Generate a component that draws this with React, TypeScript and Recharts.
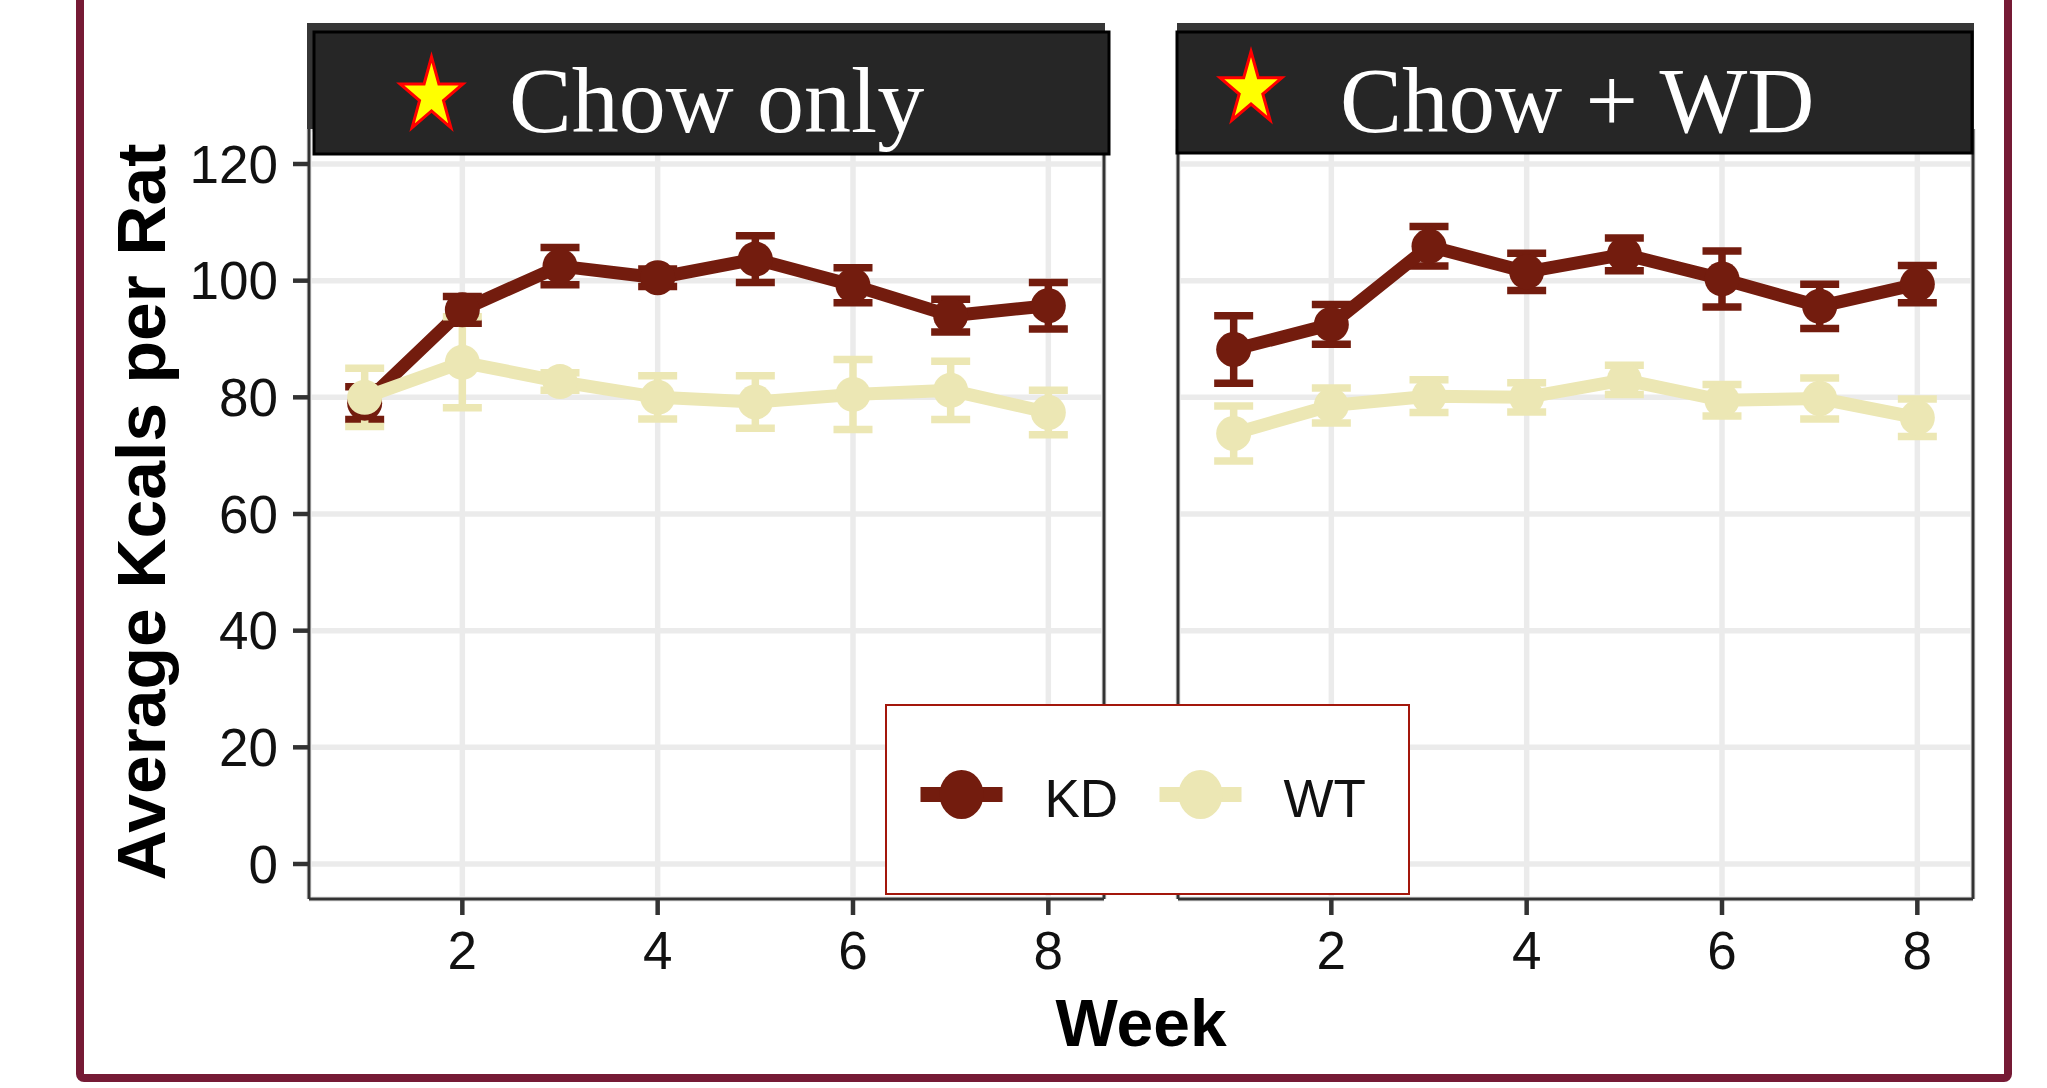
import React from 'react';
import { LineChart, Line, XAxis, YAxis, CartesianGrid, ErrorBar, ReferenceLine, Legend } from 'recharts';

// weeks on the x axis
const weeks = [1, 2, 3, 4, 5, 6, 7, 8];
const panelTitles = ['Chow only', 'Chow + WD'];

// Chow only panel: means and error (kcal)
const chowKD = [79, 95, 102.5, 100.5, 103.7, 99.2, 94, 95.7];
const chowKDErr = [2.8, 2.3, 3.2, 1.5, 4, 3, 2.8, 4];
const chowWT = [80, 86, 82.7, 80, 79.2, 80.5, 81.2, 77.4];
const chowWTErr = [5, 7.8, 1.5, 3.7, 4.5, 6, 5, 3.8];

// Chow + WD panel
const wdKD = [88.2, 92.5, 105.9, 101.5, 104.5, 100.3, 95.6, 99.4];
const wdKDErr = [5.8, 3.4, 3.4, 3.2, 2.8, 4.8, 3.8, 3.2];
const wdWT = [73.8, 78.6, 80.2, 80, 83, 79.5, 79.8, 76.5];
const wdWTErr = [4.7, 3, 2.8, 2.5, 2.5, 2.7, 3.5, 3.2];

const xTicks = [2, 4, 6, 8];
const yTicks = [0, 20, 40, 60, 80, 100, 120];

const KD_COLOR = '#731c0e';
const WT_COLOR = '#ece7b4';
const GRID = '#ebebeb';
const AXIS = '#333333';
const SANS = '"Liberation Sans", Arial, Helvetica, sans-serif';
const SERIF = '"Liberation Serif", "Times New Roman", Times, serif';

const X_DOMAIN: [number, number] = [0.43, 8.57];
const Y_DOMAIN: [number, number] = [-6, 126];

const buildRows = (kd: number[], kdErr: number[], wt: number[], wtErr: number[]) =>
  weeks.map((week, i) => ({ week, kd: kd[i], kdErr: kdErr[i], wt: wt[i], wtErr: wtErr[i] }));

const chowRows = buildRows(chowKD, chowKDErr, chowWT, chowWTErr);
const wdRows = buildRows(wdKD, wdKDErr, wdWT, wdWTErr);

const tickStyle = { fontFamily: SANS, fontSize: 53, fill: '#111' };

function LegendBox(props: any) {
  const payload = props.payload || [];
  return (
    <div style={{ width: 525, height: 191, boxSizing: 'border-box', border: '2.5px solid #a3170c', background: '#fff' }}>
      <svg width={520} height={186} style={{ display: 'block' }}>
        {payload.map((entry: any, i: number) => {
          const cx = 74.5 + i * 239;
          return (
            <g key={entry.value}>
              <line x1={cx - 41} x2={cx + 41} y1={88.5} y2={88.5} stroke={entry.color} strokeWidth={15} />
              <ellipse cx={cx} cy={88.5} rx={22} ry={24.5} fill={entry.color} />
              <text x={cx + 83} y={110.5} fontFamily={SANS} fontSize={53} fill="#111">{entry.value}</text>
            </g>
          );
        })}
      </svg>
    </div>
  );
}

function Panel({ rows, left, width, margin, showY, withLegend }: any) {
  return (
    <div style={{ position: 'absolute', left, top: 0, zIndex: withLegend ? 1 : 0 }}>
      <LineChart width={width} height={1088} data={rows} margin={margin}>
        <CartesianGrid stroke={GRID} strokeWidth={5.5} />
        <XAxis
          type="number"
          dataKey="week"
          domain={X_DOMAIN}
          allowDataOverflow
          ticks={xTicks}
          height={60}
          tick={tickStyle}
          tickSize={16}
          tickMargin={16}
          axisLine={{ stroke: AXIS, strokeWidth: 3 }}
          tickLine={{ stroke: AXIS, strokeWidth: 4.5 }}
        />
        <YAxis
          type="number"
          domain={Y_DOMAIN}
          allowDataOverflow
          ticks={yTicks}
          hide={!showY}
          width={100}
          tick={tickStyle}
          tickSize={16}
          tickMargin={15}
          axisLine={false}
          tickLine={{ stroke: AXIS, strokeWidth: 4.5 }}
        />
        <ReferenceLine x={X_DOMAIN[0]} stroke={AXIS} strokeWidth={3} ifOverflow="visible" />
        <ReferenceLine x={X_DOMAIN[1]} stroke={AXIS} strokeWidth={3} ifOverflow="visible" />
        <Line
          type="linear"
          dataKey="kd"
          name="KD"
          stroke={KD_COLOR}
          strokeWidth={13}
          strokeLinejoin="round"
          dot={{ r: 17.5, fill: KD_COLOR, stroke: KD_COLOR, strokeWidth: 0 }}
          activeDot={false}
          isAnimationActive={false}
        >
          <ErrorBar dataKey="kdErr" direction="y" width={19.5} strokeWidth={7.5} stroke={KD_COLOR} isAnimationActive={false} />
        </Line>
        <Line
          type="linear"
          dataKey="wt"
          name="WT"
          stroke={WT_COLOR}
          strokeWidth={13}
          strokeLinejoin="round"
          dot={{ r: 17.5, fill: WT_COLOR, stroke: WT_COLOR, strokeWidth: 0 }}
          activeDot={false}
          isAnimationActive={false}
        >
          <ErrorBar dataKey="wtErr" direction="y" width={19.5} strokeWidth={7.5} stroke={WT_COLOR} isAnimationActive={false} />
        </Line>
        {withLegend && (
          <Legend
            layout="horizontal"
            verticalAlign="middle"
            align="center"
            content={<LegendBox />}
            wrapperStyle={{ left: 885, top: 704, width: 525, height: 191 }}
          />
        )}
      </LineChart>
    </div>
  );
}

function starPoints(cx: number, cy: number, rx: number, ry: number) {
  const pts: string[] = [];
  for (let i = 0; i < 10; i++) {
    const a = -Math.PI / 2 + (i * Math.PI) / 5;
    const k = i % 2 === 0 ? 1 : 0.382;
    pts.push(`${cx + Math.cos(a) * rx * k},${cy + Math.sin(a) * ry * k}`);
  }
  return pts.join(' ');
}

function Overlay() {
  return (
    <svg width={2047} height={1088} style={{ position: 'absolute', left: 0, top: 0, zIndex: 2, pointerEvents: 'none' }}>
      {/* strips */}
      <rect x={307} y={23} width={798} height={106} fill="#363636" />
      <rect x={314} y={32} width={795} height={122} fill="#262626" stroke="#000" strokeWidth={3} />
      <rect x={1177} y={23} width={797} height={106} fill="#363636" />
      <rect x={1177} y={32} width={795} height={121} fill="#262626" stroke="#000" strokeWidth={3} />
      <polygon points={starPoints(431.5, 96, 33, 39)} fill="#ffff00" stroke="#ff0000" strokeWidth={3} />
      <polygon points={starPoints(1251, 89.5, 32.5, 38)} fill="#ffff00" stroke="#ff0000" strokeWidth={3} />
      <text x={509} y={132} fontFamily={SERIF} fontSize={94} fill="#fff">{panelTitles[0]}</text>
      <text x={1340} y={132} fontFamily={SERIF} fontSize={93} fill="#fff">{panelTitles[1]}</text>
      {/* axis titles */}
      <text
        x={165}
        y={512}
        transform="rotate(-90 165 512)"
        textAnchor="middle"
        fontFamily={SANS}
        fontWeight="bold"
        fontSize={68}
        textLength={737}
        lengthAdjust="spacingAndGlyphs"
        fill="#000"
      >
        Average Kcals per Rat
      </text>
      <text x={1141} y={1046} textAnchor="middle" fontFamily={SANS} fontWeight="bold" fontSize={66} fill="#000">
        Week
      </text>
      {/* outer frame */}
      <rect x={80} y={-30} width={1928} height={1108} rx={4} fill="none" stroke="#761a35" strokeWidth={8} />
    </svg>
  );
}

export default function App() {
  return (
    <div style={{ position: 'absolute', left: 0, top: 0, width: 2047, height: 1088, background: '#fff', overflow: 'hidden' }}>
      <Panel rows={chowRows} left={0} width={1140} margin={{ top: 129, right: 36, bottom: 129, left: 209 }} showY withLegend />
      <Panel rows={wdRows} left={1140} width={907} margin={{ top: 129, right: 74, bottom: 129, left: 38 }} showY={false} />
      <Overlay />
    </div>
  );
}
